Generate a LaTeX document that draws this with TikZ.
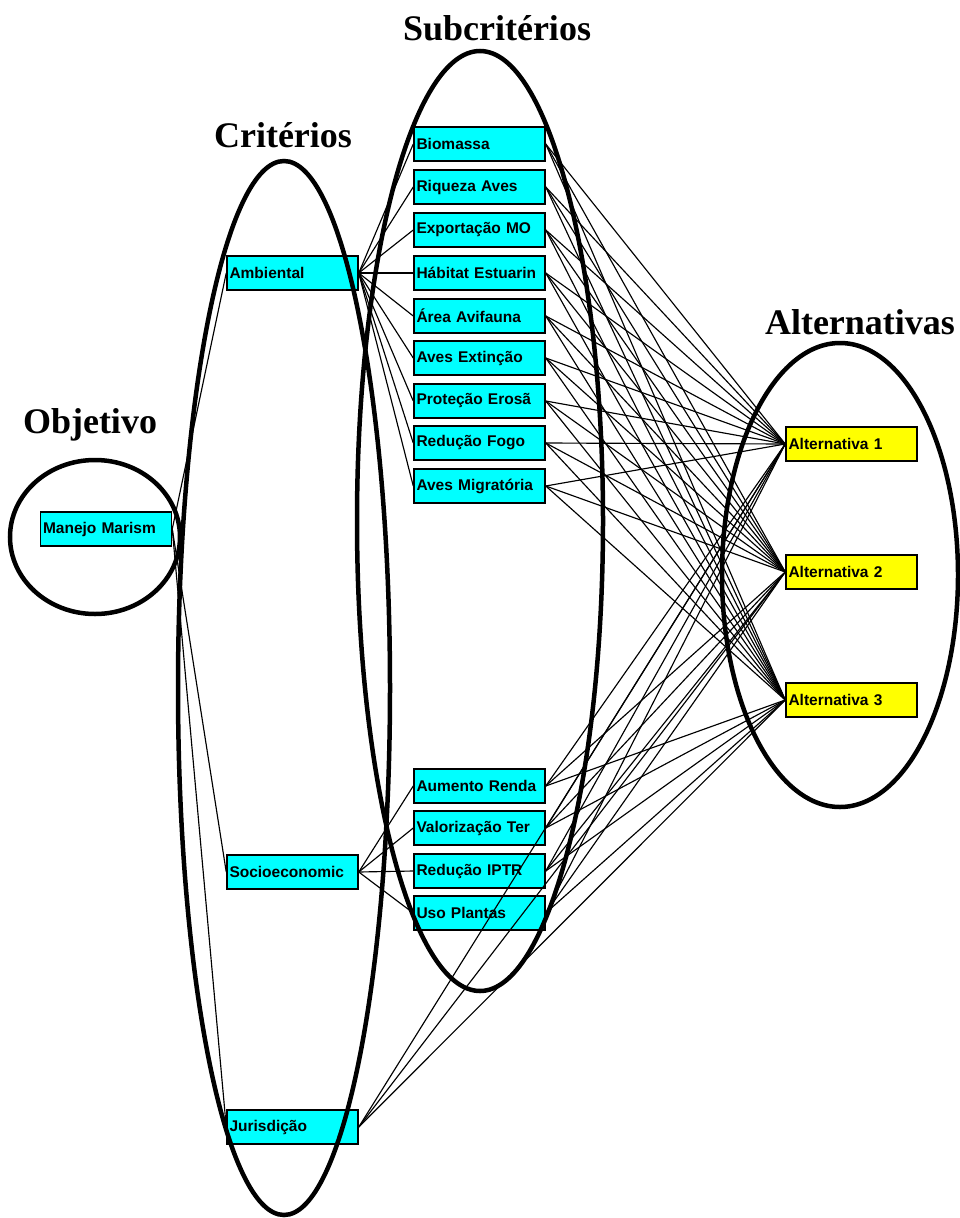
\documentclass[tikz,border=0pt]{standalone}
\usepackage{fontspec}
\setmainfont{Liberation Serif}
\newfontfamily\boxfont{Liberation Sans}
\definecolor{boxcyan}{RGB}{0,255,255}
\definecolor{boxyellow}{RGB}{255,255,0}
\begin{document}
\begin{tikzpicture}[x=1pt,y=-1pt,
  cbox/.style={draw=black,line width=1.5pt,fill=boxcyan,minimum width=131pt,minimum height=34pt,
    text width=126pt,inner xsep=2.5pt,inner ysep=0pt,align=left,font=\boxfont\bfseries\fontsize{15.5}{17}\selectfont},
  ybox/.style={cbox,fill=boxyellow},
  link/.style={line width=1.15pt,black},
  ring/.style={line width=4.5pt,black},
  title/.style={font=\bfseries\fontsize{36}{40}\selectfont}]
\useasboundingbox (0,0) rectangle (959,1218);
% goal
\node[cbox] (g) at (106,529) {Manejo Marism};
% criteria
\node[cbox] (c1) at (292.5,273) {Ambiental};
\node[cbox] (c2) at (292.5,872) {Socioeconomic};
\node[cbox] (c3) at (292.5,1127) {Jurisdição};
% subcriteria
\node[cbox] (s1) at (479.5,144) {Biomassa};
\node[cbox] (s2) at (479.5,187) {Riqueza Aves};
\node[cbox] (s3) at (479.5,230) {Exportação MO};
\node[cbox] (s4) at (479.5,273) {Hábitat Estuarin};
\node[cbox] (s5) at (479.5,316) {Área Avifauna};
\node[cbox] (s6) at (479.5,358) {Aves Extinção};
\node[cbox] (s7) at (479.5,401) {Proteção Erosã};
\node[cbox] (s8) at (479.5,443) {Redução Fogo};
\node[cbox] (s9) at (479.5,486) {Aves Migratória};
\node[cbox] (t1) at (479.5,786) {Aumento Renda};
\node[cbox] (t2) at (479.5,828) {Valorização Ter};
\node[cbox] (t3) at (479.5,871) {Redução IPTR};
\node[cbox] (t4) at (479.5,913) {Uso Plantas};
% alternatives
\node[ybox] (a1) at (851.5,444) {Alternativa 1};
\node[ybox] (a2) at (851.5,572) {Alternativa 2};
\node[ybox] (a3) at (851.5,700) {Alternativa 3};
% links
\foreach \c in {c1,c2,c3} \draw[link] (g.east) -- (\c.west);
\foreach \s in {s1,s2,s3,s4,s5,s6,s7,s8,s9} \draw[link] (c1.east) -- (\s.west);
\foreach \s in {t1,t2,t3,t4} \draw[link] (c2.east) -- (\s.west);
\foreach \s in {s1,s2,s3,s4,s5,s6,s7,s8,s9,t1,t2,t3,t4}
  \foreach \a in {a1,a2,a3} \draw[link] (\s.east) -- (\a.west);
\foreach \a in {a1,a2,a3} \draw[link] (c3.east) -- (\a.west);
% ellipses
\draw[ring] (95,537) ellipse [x radius=85, y radius=77];
\draw[ring] (284,688) ellipse [x radius=106, y radius=527];
\draw[ring] (480,521) ellipse [x radius=123, y radius=470];
\draw[ring] (840,575) ellipse [x radius=118, y radius=232];
% titles
\node[title] (tt1) at (90,425) {Objetivo};
\node[title] (tt2) at (283,135) {Critérios};
\node[title] (tt3) at (497,28) {Subcritérios};
\node[title] (tt4) at (860,322) {Alternativas};
\end{tikzpicture}
\end{document}
